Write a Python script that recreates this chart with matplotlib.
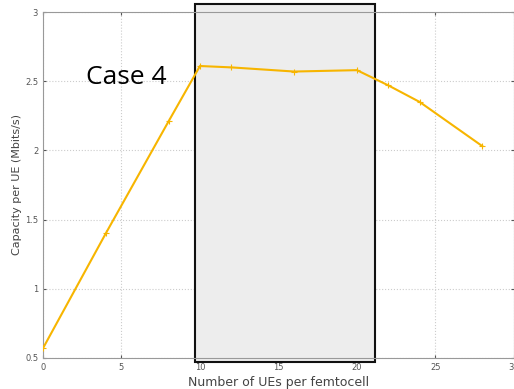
import matplotlib
matplotlib.use("Agg")
import matplotlib.pyplot as plt
from matplotlib.patches import Rectangle

ues = [0, 4, 8, 10, 12, 16, 20, 22, 24, 28]
capacity = [0.57, 1.40, 2.21, 2.61, 2.60, 2.57, 2.58, 2.47, 2.35, 2.03]
xticks = [0, 5, 10, 15, 20, 25, 30]
yticks = [0.5, 1, 1.5, 2, 2.5, 3]
ytick_labels = ["0.5", "1", "1.5", "2", "2.5", "3"]

fig = plt.figure(figsize=(5.14, 3.89), dpi=100)
ax = fig.add_axes([0.0837, 0.080, 0.916, 0.889])
ax.set_xlim(0, 30)
ax.set_ylim(0.5, 3)

ax.add_patch(Rectangle((9.7, 0.47), 11.45, 2.59, facecolor="#ededed",
                       edgecolor="#111111", linewidth=1.5, clip_on=False, zorder=1))

ax.plot(ues, capacity, color="#F7B500", linewidth=1.5, marker="+",
        markersize=5, markeredgewidth=0.8, zorder=3)

ax.set_xticks(xticks)
ax.set_yticks(yticks)
ax.set_yticklabels(ytick_labels)
ax.grid(True, color="#cccccc", linestyle=":", linewidth=0.8, zorder=0)
ax.set_axisbelow(True)
ax.tick_params(labelsize=6, colors="#555555", length=2, direction="in",
               right=True, top=True)
for s in ax.spines.values():
    s.set_color("#999999")
    s.set_linewidth(0.8)

ax.set_xlabel("Number of UEs per femtocell", fontsize=9, color="#444444", labelpad=3)
ax.set_ylabel("Capacity per UE (Mbits/s)", fontsize=8, color="#444444", labelpad=2)

ax.text(5.3, 2.53, "Case 4", fontsize=19, color="black", ha="center", va="center",
        family="Open Sans", zorder=4)

fig.savefig("out.png", dpi=100)
